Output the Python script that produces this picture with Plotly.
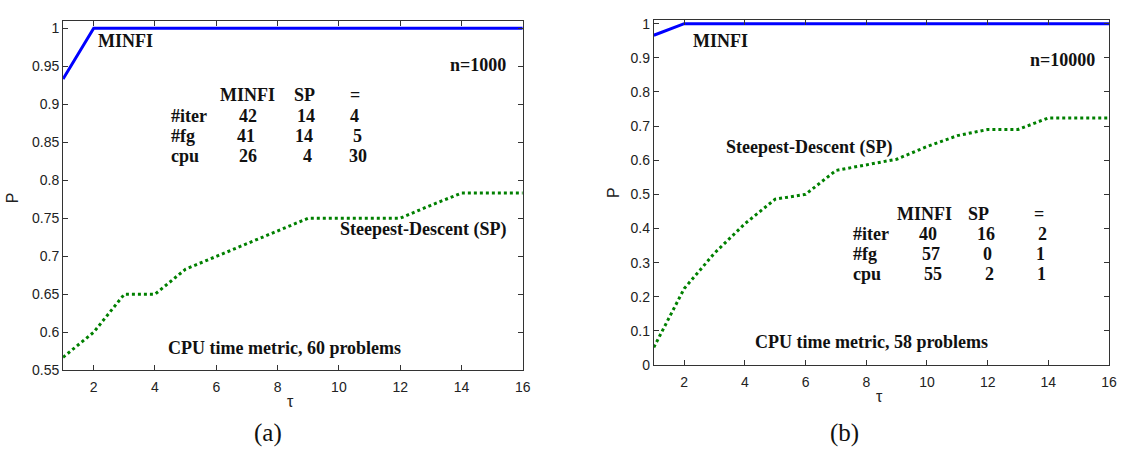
import plotly.graph_objects as go

W, H = 1126, 454

# ---------------- data ----------------
tau = [1, 2, 3, 4, 5, 6, 7, 8, 9, 10, 11, 12, 13, 14, 15, 16]

minfi_a = [0.933, 1, 1, 1, 1, 1, 1, 1, 1, 1, 1, 1, 1, 1, 1, 1]
sp_a = [0.567, 0.600, 0.650, 0.650, 0.683, 0.700, 0.717, 0.733, 0.750, 0.750,
        0.750, 0.750, 0.767, 0.783, 0.783, 0.783]

minfi_b = [0.966, 1, 1, 1, 1, 1, 1, 1, 1, 1, 1, 1, 1, 1, 1, 1]
sp_b = [0.052, 0.224, 0.328, 0.414, 0.486, 0.500, 0.570, 0.586, 0.603, 0.640,
        0.672, 0.690, 0.690, 0.724, 0.724, 0.724]

xtick_vals = [2, 4, 6, 8, 10, 12, 14, 16]
ytick_vals_a = [0.55, 0.6, 0.65, 0.7, 0.75, 0.8, 0.85, 0.9, 0.95, 1]
ytick_text_a = ["0.55", "0.6", "0.65", "0.7", "0.75", "0.8", "0.85", "0.9", "0.95", "1"]
ytick_vals_b = [0, 0.1, 0.2, 0.3, 0.4, 0.5, 0.6, 0.7, 0.8, 0.9, 1]
ytick_text_b = ["0", "0.1", "0.2", "0.3", "0.4", "0.5", "0.6", "0.7", "0.8", "0.9", "1"]

table_cols = ["MINFI", "SP", "="]
table_rows = ["#iter", "#fg", "cpu"]
table_a = [[42, 14, 4], [41, 14, 5], [26, 4, 30]]
table_b = [[40, 16, 2], [57, 0, 1], [55, 2, 1]]

# ---------------- figure ----------------
fig = go.Figure()
fig.add_trace(go.Scatter(x=tau, y=minfi_a, mode="lines", xaxis="x", yaxis="y",
                         line=dict(color="#0000ff", width=3), showlegend=False))
fig.add_trace(go.Scatter(x=tau, y=sp_a, mode="lines", xaxis="x", yaxis="y",
                         line=dict(color="#008000", width=3, dash="dot"), showlegend=False))
fig.add_trace(go.Scatter(x=tau, y=minfi_b, mode="lines", xaxis="x2", yaxis="y2",
                         line=dict(color="#0000ff", width=3), showlegend=False))
fig.add_trace(go.Scatter(x=tau, y=sp_b, mode="lines", xaxis="x2", yaxis="y2",
                         line=dict(color="#008000", width=3, dash="dot"), showlegend=False))


def px(x):
    return x / W


def py(y):
    return 1 - y / H


tickfont = dict(family="Liberation Sans, Arial, sans-serif", size=14, color="#222222")
axis_common = dict(showgrid=False, zeroline=False, showline=True, linecolor="#333333",
                   linewidth=1, mirror="ticks", ticks="inside", ticklen=5,
                   tickcolor="#333333", tickfont=tickfont)

fig.update_layout(
    width=W, height=H, margin=dict(l=0, r=0, t=0, b=0),
    paper_bgcolor="white", plot_bgcolor="white",
    xaxis=dict(domain=[px(63.5), px(526.5)], range=[1, 16], tickvals=xtick_vals,
               anchor="y", ticklabelstandoff=4, **axis_common),
    yaxis=dict(domain=[py(376), py(16)], range=[0.55, 1.01], tickvals=ytick_vals_a,
               ticktext=ytick_text_a, anchor="x", **axis_common),
    xaxis2=dict(domain=[px(658.5), px(1117)], range=[1, 16], tickvals=xtick_vals,
                anchor="y2", ticklabelstandoff=4, **axis_common),
    yaxis2=dict(domain=[py(370.7), py(15.7)], range=[0, 1.01], tickvals=ytick_vals_b,
                ticktext=ytick_text_b, anchor="x2", **axis_common),
)

serif = dict(family="Liberation Serif, Times New Roman, serif", size=18, color="#111111",
             weight="bold")
annos = []


def txt(text, x, y, xanchor="center", font=serif, textangle=0):
    annos.append(dict(text=text, x=px(x), y=py(y), xref="paper", yref="paper",
                      xanchor=xanchor, yanchor="middle", showarrow=False, font=font,
                      textangle=textangle))


# panel (a)
txt("MINFI", 97, 37, "left")
txt("n=1000", 451, 62, "left")
txt("Steepest-Descent (SP)", 340, 231, "left")
txt("CPU time metric, 60 problems", 167.5, 353, "left")
# panel (b)
txt("MINFI", 695.5, 37, "left")
txt("n=10000", 1035.5, 57, "left")
txt("Steepest-Descent (SP)", 729, 147, "left")
txt("CPU time metric, 58 problems", 758, 347, "left")


def table(values, row_x, head_x, num_x, row_y):
    for j, c in enumerate(table_cols):
        txt(c, head_x[j], row_y[0])
    for i, r in enumerate(table_rows):
        txt(r, row_x, row_y[i + 1], "left")
        for j in range(3):
            txt(str(values[i][j]), num_x[i][j], row_y[i + 1])


table(table_a, 170.5, [249, 306.7, 358],
      [[250, 308, 357.3], [247.7, 306, 360], [249.3, 309.3, 360.7]],
      [93, 114.3, 135, 155])
table(table_b, 857.3, [931, 985.8, 1046.7],
      [[935, 993.3, 1050], [937.3, 995, 1047.7], [940, 996.7, 1049.3]],
      [215, 235.7, 256.7, 276.7])

sans = dict(family="Liberation Sans, Arial, sans-serif", size=16, color="#222222")
txt("P", 12, 198, font=sans, textangle=-90)
txt("P", 618, 193, font=sans, textangle=-90)
txt("τ", 293, 408, font=sans)
txt("τ", 886, 403, font=sans)

big = dict(family="Liberation Serif, Times New Roman, serif", size=25, color="#111111")
txt("(a)", 270, 441, font=big)
txt("(b)", 851, 441, font=big)

fig.update_layout(annotations=annos)
fig.write_html("out.html")
